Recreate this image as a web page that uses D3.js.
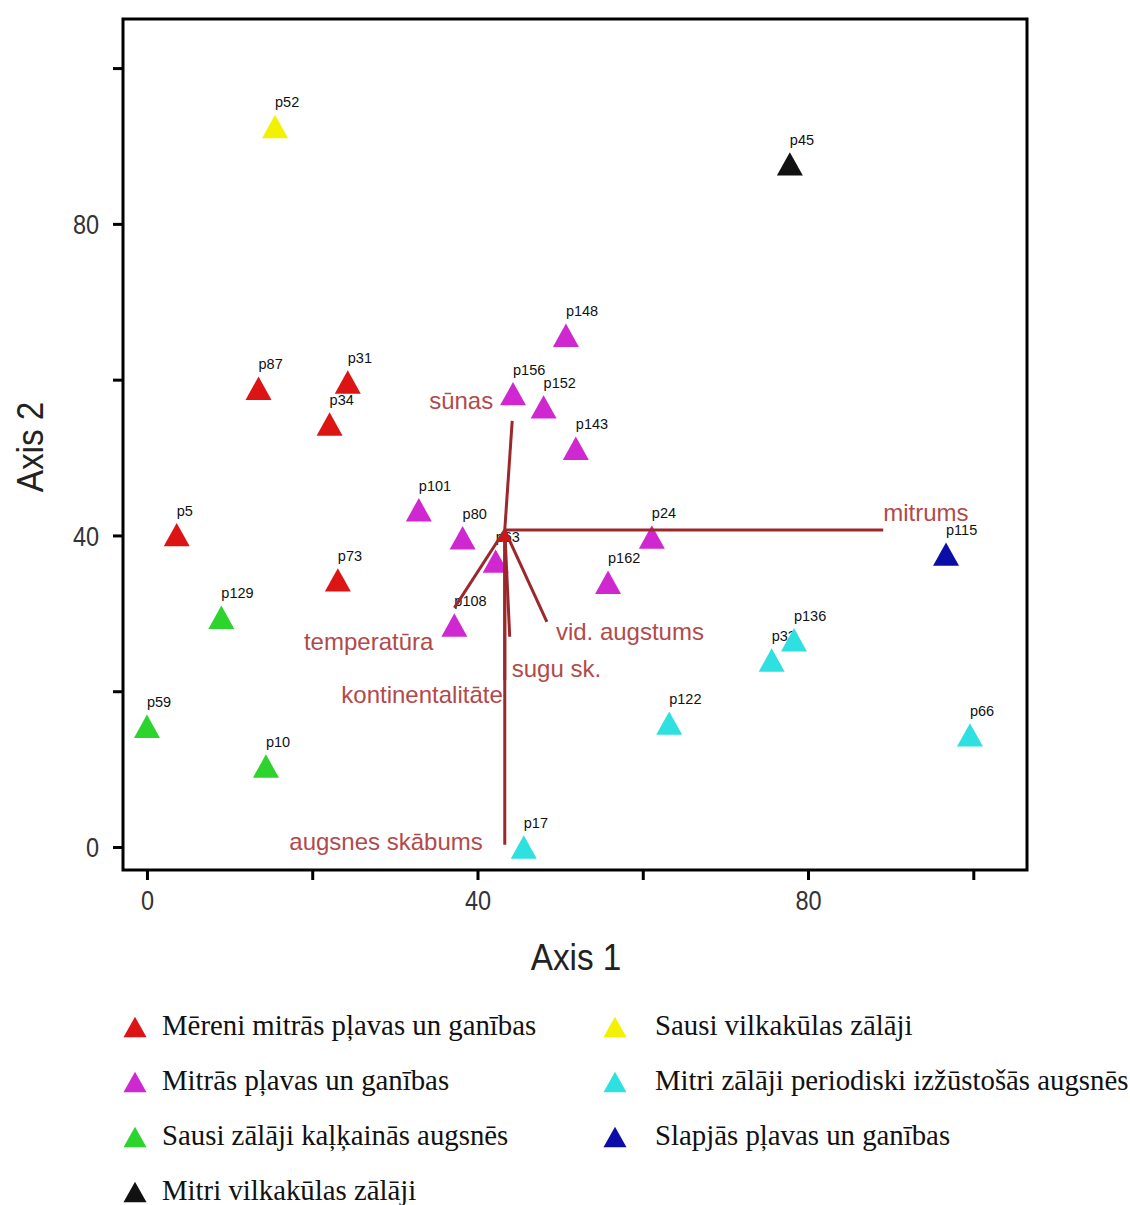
<!DOCTYPE html>
<html>
<head>
<meta charset="utf-8">
<script src="https://cdn.jsdelivr.net/npm/d3@7"></script>
<style>
  body { margin: 0; background: #fff; }
  svg { display: block; }
</style>
</head>
<body>
<svg id="chart" width="1130" height="1205"></svg>
<script>
// Vegetation groups (legend order) and their marker colours
const groupNames = [
  "Mēreni mitrās pļavas un ganības",
  "Mitrās pļavas un ganības",
  "Sausi zālāji kaļķainās augsnēs",
  "Mitri vilkakūlas zālāji",
  "Sausi vilkakūlas zālāji",
  "Mitri zālāji periodiski izžūstošās augsnēs",
  "Slapjās pļavas un ganības"
];
const groupColors = ["#dd1414", "#d028d0", "#2ed42e", "#111111", "#f2f200", "#2ee0e0", "#0c0ca8"];

// Relevés: name, group index, ordination scores
const plotNames = ["p52", "p45", "p148", "p156", "p152", "p143", "p87", "p31", "p34", "p101", "p5",
  "p80", "p24", "p63", "p115", "p162", "p73", "p129", "p108", "p136", "p33", "p122", "p66", "p59", "p10", "p17"];
const plotGroup = [4, 3, 1, 1, 1, 1, 0, 0, 0, 1, 0,
  1, 1, 1, 6, 1, 0, 2, 1, 5, 5, 5, 5, 2, 2, 5];
const axis1Scores = [15.5, 77.8, 50.7, 44.3, 48.0, 51.9, 13.5, 24.3, 22.1, 32.9, 3.6,
  38.2, 61.1, 42.2, 96.7, 55.8, 23.1, 9.0, 37.2, 78.3, 75.6, 63.2, 99.6, 0.0, 14.4, 45.6];
const axis2Scores = [92.5, 87.7, 65.7, 58.2, 56.5, 51.2, 58.9, 59.7, 54.3, 43.3, 40.1,
  39.7, 39.8, 36.7, 37.6, 34.0, 34.3, 29.5, 28.5, 26.6, 24.0, 15.9, 14.4, 15.5, 10.4, 0.0];

// Environmental vectors (joint plot), drawn from the centroid
const vectorOrigin = [43.3, 40.7];
const vectorNames = ["mitrums", "sūnas", "temperatūra", "vid. augstums", "sugu sk.", "kontinentalitāte", "augsnes skābums"];
const vectorAxis1 = [89.1, 44.2, 37.2, 48.4, 43.9, 43.3, 43.3];
const vectorAxis2 = [40.7, 54.7, 30.7, 28.9, 27.0, 21.4, 0.3];

// Axis ticks
const tickValues = [0, 20, 40, 60, 80, 100];
const labelledTicks = [0, 40, 80];

// ---- styling / layout ----
const vectorLabelStyle = {
  "mitrums":          { anchor: "start", dx: 0,   dy: -9 },
  "sūnas":            { anchor: "end",   dx: -19, dy: -12 },
  "temperatūra":      { anchor: "end",   dx: -21, dy: 42 },
  "vid. augstums":    { anchor: "start", dx: 9,   dy: 18 },
  "sugu sk.":         { anchor: "start", dx: 2,   dy: 40 },
  "kontinentalitāte": { anchor: "end",   dx: -2,  dy: 23 },
  "augsnes skābums":  { anchor: "end",   dx: -22, dy: 5 }
};
const vectorColor = "#9c282c";
const vectorLabelColor = "#b24a4a";

const svg = d3.select("#chart");
const x = d3.scaleLinear().domain([-2.9, 106.5]).range([123, 1027]);
const y = d3.scaleLinear().domain([-2.95, 106.3]).range([870, 19]);

// bbox-centred upward triangle; size = width squared
const triangle = {
  draw(ctx, size) {
    const w = Math.sqrt(size), h = w * 0.9;
    ctx.moveTo(0, -h / 2);
    ctx.lineTo(w / 2, h / 2);
    ctx.lineTo(-w / 2, h / 2);
    ctx.closePath();
  }
};
const marker = d3.symbol().type(triangle).size(26 * 26);
const legendMarker = d3.symbol().type(triangle).size(23 * 23);
const originMarker = d3.symbol().type(triangle).size(13 * 13);

// axes
const tickFmt = d => labelledTicks.includes(d) ? d3.format("d")(d) : "";
const textScale = 0.87;

const yAxis = svg.append("g")
  .attr("transform", `translate(${x.range()[0]},0)`)
  .call(d3.axisLeft(y).tickValues(tickValues).tickFormat(tickFmt).tickSize(10));
yAxis.select(".domain").remove();
yAxis.selectAll(".tick line").attr("stroke", "#000").attr("stroke-width", 3);
yAxis.selectAll(".tick text")
  .attr("font-family", "'Liberation Sans', Arial, sans-serif")
  .attr("font-size", 27)
  .attr("fill", "#333")
  .attr("x", -24 / textScale)
  .attr("dy", "0.36em")
  .attr("transform", `scale(${textScale},1)`);

const xAxis = svg.append("g")
  .attr("transform", `translate(0,${y.range()[0]})`)
  .call(d3.axisBottom(x).tickValues(tickValues).tickFormat(tickFmt).tickSize(10));
xAxis.select(".domain").remove();
xAxis.selectAll(".tick line").attr("stroke", "#000").attr("stroke-width", 3);
xAxis.selectAll(".tick text")
  .attr("font-family", "'Liberation Sans', Arial, sans-serif")
  .attr("font-size", 27)
  .attr("fill", "#333")
  .attr("y", 40)
  .attr("dy", 0)
  .attr("transform", `scale(${textScale},1)`);

// frame
svg.append("rect")
  .attr("x", x.range()[0]).attr("y", y.range()[1])
  .attr("width", x.range()[1] - x.range()[0])
  .attr("height", y.range()[0] - y.range()[1])
  .attr("fill", "none").attr("stroke", "#000").attr("stroke-width", 3);

// axis titles
svg.append("g")
  .attr("transform", `translate(${(x.range()[0] + x.range()[1]) / 2 + 1},970) scale(0.9,1)`)
  .append("text")
  .attr("text-anchor", "middle")
  .attr("font-family", "'Liberation Sans', Arial, sans-serif")
  .attr("font-size", 37).attr("fill", "#222")
  .text("Axis 1");
svg.append("g")
  .attr("transform", `translate(43,447) rotate(-90) scale(0.9,1)`)
  .append("text")
  .attr("text-anchor", "middle")
  .attr("font-family", "'Liberation Sans', Arial, sans-serif")
  .attr("font-size", 37).attr("fill", "#222")
  .text("Axis 2");

// point records
const plots = plotNames.map((name, i) => ({
  name, group: plotGroup[i], a1: axis1Scores[i], a2: axis2Scores[i]
}));

// point labels (under the markers)
svg.append("g").selectAll("text").data(plots).join("text")
  .attr("x", d => x(d.a1))
  .attr("y", d => y(d.a2) - 19)
  .attr("font-family", "'Liberation Sans', Arial, sans-serif")
  .attr("font-size", 14.5)
  .attr("fill", "#111")
  .text(d => d.name);

// markers
svg.append("g").selectAll("path").data(plots).join("path")
  .attr("transform", d => `translate(${x(d.a1)},${y(d.a2)})`)
  .attr("d", marker)
  .attr("fill", d => groupColors[d.group]);

// environmental vectors
const vectors = vectorNames.map((name, i) => ({ name, a1: vectorAxis1[i], a2: vectorAxis2[i] }));
const vg = svg.append("g");
vg.selectAll("line").data(vectors).join("line")
  .attr("x1", x(vectorOrigin[0])).attr("y1", y(vectorOrigin[1]))
  .attr("x2", d => x(d.a1)).attr("y2", d => y(d.a2))
  .attr("stroke", vectorColor)
  .attr("stroke-width", 3);
vg.append("path")
  .attr("transform", `translate(${x(vectorOrigin[0])},${y(vectorOrigin[1]) + 6})`)
  .attr("d", originMarker)
  .attr("fill", "#d41414");
vg.selectAll("text").data(vectors).join("text")
  .attr("x", d => x(d.a1) + vectorLabelStyle[d.name].dx)
  .attr("y", d => y(d.a2) + vectorLabelStyle[d.name].dy)
  .attr("text-anchor", d => vectorLabelStyle[d.name].anchor)
  .attr("font-family", "'Liberation Sans', Arial, sans-serif")
  .attr("font-size", 24)
  .attr("fill", vectorLabelColor)
  .text(d => d.name);

// legend: two columns
const legendCols = [[0, 1, 2, 3], [4, 5, 6]];
const colX = [135, 615];
const rowY = [1027, 1082, 1137, 1192];
const legend = svg.append("g");
legendCols.forEach((col, c) => {
  const items = legend.append("g").selectAll("g").data(col).join("g")
    .attr("transform", (g, r) => `translate(${colX[c]},${rowY[r]})`);
  items.append("path").attr("d", legendMarker).attr("fill", g => groupColors[g]);
  items.append("text")
    .attr("x", c === 0 ? 27 : 40)
    .attr("y", 8)
    .attr("font-family", "'Liberation Serif', 'Times New Roman', serif")
    .attr("font-size", 28.8)
    .attr("fill", "#111")
    .text(g => groupNames[g]);
});
</script>
</body>
</html>
